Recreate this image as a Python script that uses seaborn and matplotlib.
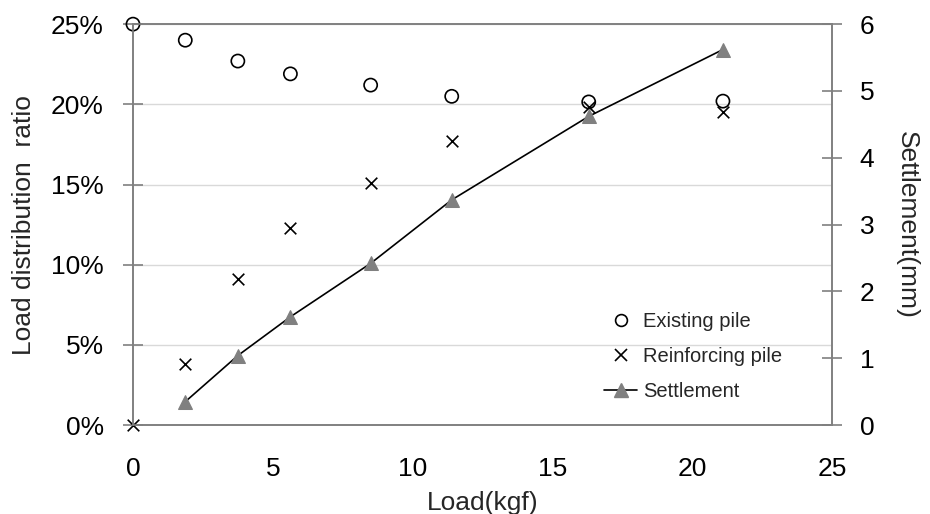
import numpy as np
import pandas as pd
import matplotlib
matplotlib.use('Agg')
import matplotlib.pyplot as plt
from matplotlib.lines import Line2D
from matplotlib.ticker import FuncFormatter
import seaborn as sns

# data
load = [0, 1.87, 3.75, 5.63, 8.5, 11.4, 16.3, 21.1]
existing_pile = [25.0, 24.0, 22.7, 21.9, 21.2, 20.5, 20.15, 20.2]
reinforcing_pile = [0.0, 3.8, 9.1, 12.3, 15.1, 17.7, 19.85, 19.5]
settle_load = [1.87, 3.75, 5.63, 8.5, 11.4, 16.3, 21.1]
settlement = [0.35, 1.04, 1.62, 2.42, 3.37, 4.62, 5.62]

sns.set_style('white')
plt.rcParams['font.family'] = ['Liberation Sans', 'DejaVu Sans']

ratio_df = pd.DataFrame({'load': load, 'existing': existing_pile, 'reinforcing': reinforcing_pile})
settle_df = pd.DataFrame({'load': settle_load, 'settlement': settlement})

spine_c = '#808080'
fs = 19
fig = plt.figure(figsize=(9.3, 5.14), dpi=100)
ax = fig.add_axes([0.143, 0.173, 0.7516, 0.780])

sns.scatterplot(data=ratio_df, x='load', y='existing', ax=ax, marker='o', s=90,
                facecolors='none', edgecolor='black', linewidth=1.2, zorder=3, clip_on=False)
sns.scatterplot(data=ratio_df, x='load', y='reinforcing', ax=ax, marker='x', s=70,
                color='black', linewidth=1.2, zorder=3, clip_on=False)

ax.set_xlim(0, 25)
ax.set_ylim(0, 25)
ax.set_xticks(range(0, 26, 5))
ax.set_yticks(range(0, 26, 5))
ax.yaxis.set_major_formatter(FuncFormatter(lambda v, p: f'{int(v)}%'))
ax.grid(axis='y', color='#d9d9d9', linewidth=1)
ax.set_axisbelow(True)
for s in ax.spines.values():
    s.set_color(spine_c)
    s.set_linewidth(1.2)
ax.tick_params(direction='inout', length=14, width=1.2, color=spine_c,
               labelsize=fs, labelcolor='black')
ax.tick_params(axis='y', pad=14)
ax.tick_params(axis='x', pad=16)
ax.set_xlabel('Load(kgf)', fontsize=fs, labelpad=7)
ax.set_ylabel('Load distribution  ratio', fontsize=fs, labelpad=11)

ax2 = ax.twinx()
sns.lineplot(data=settle_df, x='load', y='settlement', ax=ax2, color='black', linewidth=1.2,
             marker='^', markersize=10, markerfacecolor='#808080', markeredgecolor='#808080',
             clip_on=False)
ax2.set_ylim(0, 6)
ax2.set_yticks(range(0, 7))
for s in ax2.spines.values():
    s.set_color(spine_c)
    s.set_linewidth(1.2)
ax2.tick_params(direction='inout', length=14, width=1.2, color=spine_c,
                labelsize=fs, pad=13, labelcolor='black')
ax2.set_ylabel('Settlement(mm)', fontsize=fs, rotation=-90, labelpad=32)
ax2.set_xlabel('')

handles = [
    Line2D([], [], linestyle='none', marker='o', markersize=8.5, markerfacecolor='none',
           markeredgecolor='black', markeredgewidth=1.2),
    Line2D([], [], linestyle='none', marker='x', markersize=8, color='black', markeredgewidth=1.2),
    Line2D([], [], color='black', linewidth=1.2, marker='^', markersize=10,
           markerfacecolor='#808080', markeredgecolor='#808080'),
]
ax2.legend(handles, ['Existing pile', 'Reinforcing pile', 'Settlement'], frameon=False,
           fontsize=14.5, loc='lower left', bbox_to_anchor=(0.663, 0.04),
           handlelength=1.6, handletextpad=0.3, labelspacing=0.8, borderaxespad=0)

fig.savefig('out.png', dpi=100)
